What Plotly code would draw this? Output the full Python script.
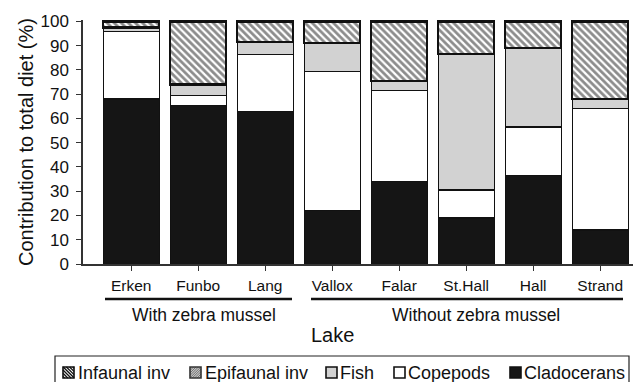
import plotly.graph_objects as go

# Diet composition (% of total diet) per lake
lakes = ["Erken", "Funbo", "Lang", "Vallox", "Falar", "St.Hall", "Hall", "Strand"]
cladocerans = [68, 65.5, 63, 22, 34, 19, 36.5, 14]
copepods = [28, 4, 23.5, 57.5, 37.5, 11.5, 20, 50]
fish = [1.5, 4.5, 5, 11.5, 4, 56, 32.5, 4]
epifaunal = [0, 0, 0, 0, 0, 0, 0, 0]
infaunal = [2.5, 26, 8.5, 9, 24.5, 13.5, 11, 32]

group_labels = ["With zebra mussel", "Without zebra mussel"]
legend_names = ["Infaunal inv", "Epifaunal inv", "Fish", "Copepods", "Cladocerans"]

FONT = "Liberation Sans, Arial, Helvetica, sans-serif"
INK = "#151515"

W, H = 635, 382
ML, MR, MT, MB = 83, 2, 20, 118
PW, PH = W - ML - MR, H - MT - MB


def px(x):
    """page pixel x -> paper x"""
    return (x - ML) / PW


def py(y):
    """page pixel y (top-down) -> paper y"""
    return (H - MB - y) / PH


fig = go.Figure()
fig.add_bar(x=lakes, y=cladocerans, name="Cladocerans",
            marker=dict(color=INK, line=dict(color="#111", width=1)))
fig.add_bar(x=lakes, y=copepods, name="Copepods",
            marker=dict(color="white", line=dict(color="#111", width=1.2)))
fig.add_bar(x=lakes, y=fish, name="Fish",
            marker=dict(color="#d2d2d2", line=dict(color="#111", width=1.2)))
fig.add_bar(x=lakes, y=epifaunal, name="Epifaunal inv",
            marker=dict(color="#bbbbbb", line=dict(color="#333", width=1),
                        pattern=dict(shape="/", fgcolor="#555555", bgcolor="#c8c8c8",
                                     size=4, solidity=0.4)))
fig.add_bar(x=lakes, y=infaunal, name="Infaunal inv",
            marker=dict(color="white", line=dict(color="#111", width=2.2),
                        pattern=dict(shape="\\", fgcolor="#1a1a1a", bgcolor="white",
                                     size=5, solidity=0.55)))

# group underlines and labels below the lake names
groups = [(105, 292, 204, group_labels[0]), (311, 623, 476, group_labels[1])]
for x0, x1, xc, label in groups:
    fig.add_shape(type="line", xref="paper", yref="paper", x0=px(x0), x1=px(x1),
                  y0=py(299), y1=py(299), line=dict(color="#111", width=2.4))
    fig.add_annotation(xref="paper", yref="paper", x=px(xc), y=py(315),
                       text=label, showarrow=False, xanchor="center", yanchor="middle",
                       font=dict(size=17.5, color="#111", family=FONT))

fig.add_annotation(xref="paper", yref="paper", x=px(332), y=py(335), text="Lake",
                   showarrow=False, xanchor="center", yanchor="middle",
                   font=dict(size=20, color="#111", family=FONT))

# legend box along the bottom edge
fig.add_shape(type="rect", xref="paper", yref="paper", x0=px(55), x1=px(629),
              y0=py(400), y1=py(356), line=dict(color="#222", width=1.2),
              fillcolor="rgba(0,0,0,0)")


def hatch(a, b, s, direction, step, color, width):
    """diagonal hatch line segments inside the square [a, a+s] x [b, b+s]"""
    segs = []
    if direction == "\\":
        c = -s + step / 2
        while c < s:
            u0, u1 = max(0, c), min(s, s + c)
            segs.append(((a + u0, b + u0 - c), (a + u1, b + u1 - c)))
            c += step
    else:
        c = step / 2
        while c < 2 * s:
            u0, u1 = max(0, c - s), min(s, c)
            segs.append(((a + u0, b + c - u0), (a + u1, b + c - u1)))
            c += step
    for (x0, y0), (x1, y1) in segs:
        fig.add_shape(type="line", xref="paper", yref="paper",
                      x0=px(x0), y0=py(y0), x1=px(x1), y1=py(y1),
                      line=dict(color=color, width=width))


icon_style = {
    "Infaunal inv": dict(fill="white", border="#111", hatch=("\\", 3.2, "#111", 1.3)),
    "Epifaunal inv": dict(fill="#c4c4c4", border="#333", hatch=("/", 2.4, "#666", 0.9)),
    "Fish": dict(fill="#d2d2d2", border="#111", hatch=None),
    "Copepods": dict(fill="white", border="#111", hatch=None),
    "Cladocerans": dict(fill=INK, border="#111", hatch=None),
}
icon_x = [63, 190, 326, 394, 510]
text_x = [76, 203, 338, 406, 522]
ICON = 11
for name, ix, tx in zip(legend_names, icon_x, text_x):
    st = icon_style[name]
    top = 367
    fig.add_shape(type="rect", xref="paper", yref="paper",
                  x0=px(ix), x1=px(ix + ICON), y0=py(top + ICON), y1=py(top),
                  fillcolor=st["fill"], line=dict(width=0))
    if st["hatch"]:
        d, step, col, wd = st["hatch"]
        hatch(ix, top, ICON, d, step, col, wd)
    fig.add_shape(type="rect", xref="paper", yref="paper",
                  x0=px(ix), x1=px(ix + ICON), y0=py(top + ICON), y1=py(top),
                  fillcolor="rgba(0,0,0,0)", line=dict(color=st["border"], width=1.6))
    fig.add_annotation(xref="paper", yref="paper", x=px(tx), y=py(372.5),
                       text=name, showarrow=False, xanchor="left", yanchor="middle",
                       font=dict(size=18, color="#111", family=FONT))

fig.update_layout(
    barmode="stack",
    bargap=0.165,
    width=W, height=H,
    margin=dict(l=ML, r=MR, t=MT, b=MB),
    paper_bgcolor="white", plot_bgcolor="white",
    font=dict(family=FONT, color="#111"),
    showlegend=False,
    xaxis=dict(type="category", range=[-0.72, 7.49], showline=True,
               linecolor="#333", linewidth=1.5, ticks="outside", ticklen=5,
               tickcolor="#333", ticklabelstandoff=2,
               tickfont=dict(size=15.5, family=FONT, color="#111"),
               showgrid=False, zeroline=False),
    yaxis=dict(range=[0, 100.6], tickvals=list(range(0, 101, 10)),
               showline=True, linecolor="#333", linewidth=1.5,
               ticks="outside", ticklen=5, tickcolor="#333", ticklabelstandoff=4,
               tickfont=dict(size=17, family=FONT, color="#111"),
               showgrid=False, zeroline=False,
               title=dict(text="Contribution to total diet (%)", standoff=1,
                          font=dict(size=20, family=FONT, color="#111"))),
)

fig.write_html("out.html")
